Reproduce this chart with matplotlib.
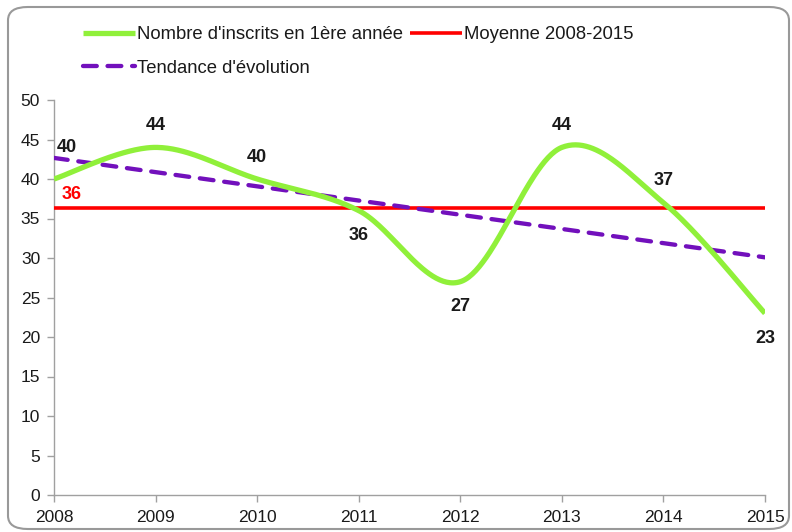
import numpy as np
import matplotlib
matplotlib.use("Agg")
import matplotlib.pyplot as plt
from matplotlib.patches import FancyBboxPatch

plt.rcParams['font.family'] = ['Liberation Sans', 'DejaVu Sans']

years = [2008, 2009, 2010, 2011, 2012, 2013, 2014, 2015]
inscrits = [40, 44, 40, 36, 27, 44, 37, 23]
label_pos = ['above', 'above', 'above', 'below', 'below', 'above', 'above', 'below']
y_ticks = [0, 5, 10, 15, 20, 25, 30, 35, 40, 45, 50]

serie_label = "Nombre d'inscrits en 1ère année"
moyenne_label = "Moyenne 2008-2015"
tendance_label = "Tendance d'évolution"

GREEN = '#90F03A'
RED = '#FF0000'
PURPLE = '#7210BC'
GREY = '#A0A0A0'
TEXT = '#1A1A1A'


def smooth(xs, ys, n=60):
    """Excel-like smoothed line (Catmull-Rom Bezier)."""
    pts = np.column_stack([xs, ys]).astype(float)
    out = []
    for i in range(len(pts) - 1):
        p0 = pts[i - 1] if i > 0 else pts[i]
        p1 = pts[i]
        p2 = pts[i + 1]
        p3 = pts[i + 2] if i + 2 < len(pts) else pts[i + 1]
        c1 = p1 + (p2 - p0) / 6.0
        c2 = p2 - (p3 - p1) / 6.0
        t = np.linspace(0, 1, n)[:, None]
        seg = ((1 - t) ** 3) * p1 + 3 * ((1 - t) ** 2) * t * c1 + 3 * (1 - t) * t ** 2 * c2 + t ** 3 * p2
        if i > 0:
            seg = seg[1:]
        out.append(seg)
    out = np.vstack(out)
    return out[:, 0], out[:, 1]


fig = plt.figure(figsize=(7.92, 5.32), dpi=100)
ax = fig.add_axes([54 / 792, 1 - 495 / 532, (765 - 54) / 792, (495 - 100) / 532])

x = np.array(years, dtype=float)
y = np.array(inscrits, dtype=float)

sx, sy = smooth(x, y)
l1, = ax.plot(sx, sy, color=GREEN, lw=3.8, solid_capstyle='butt', zorder=4, label=serie_label)

moy = y.mean()
l2, = ax.plot([x[0], x[-1]], [moy, moy], color=RED, lw=2.6, solid_capstyle='butt', zorder=3, label=moyenne_label)

coef = np.polyfit(x, y, 1)
tx = np.array([x[0], x[-1]])
l3, = ax.plot(tx, np.polyval(coef, tx), color=PURPLE, lw=3.1, dashes=(3.2, 2.5),
              dash_capstyle='round', zorder=3, label=tendance_label)

for xi, yi, pos in zip(years, inscrits, label_pos):
    dy = 22 if pos == 'above' else -25
    dx = 0
    if xi == years[0]:
        dx, dy = 13, 31
    ax.annotate(f"{yi}", (xi, yi), xytext=(dx, dy), textcoords='offset pixels',
                ha='center', va='center', fontsize=13, fontweight='bold', color=TEXT, zorder=6)

ax.annotate(f"{int(moy)}", (x[0], moy), xytext=(18, 13), textcoords='offset pixels',
            ha='center', va='center', fontsize=13, fontweight='bold', color=RED, zorder=6)

ax.set_xlim(years[0], years[-1])
ax.set_ylim(0, 50)
ax.set_xticks(years)
ax.set_yticks(y_ticks)
ax.tick_params(axis='both', direction='out', length=5, width=1, color=GREY,
               labelsize=12.5, labelcolor=TEXT)
ax.tick_params(axis='y', pad=5)
ax.tick_params(axis='x', pad=6)
for s in ['top', 'right']:
    ax.spines[s].set_visible(False)
for s in ['left', 'bottom']:
    ax.spines[s].set_color(GREY)
    ax.spines[s].set_linewidth(1)

leg = fig.legend(handles=[l1, l3, l2], ncol=2, loc='upper left',
                 bbox_to_anchor=(83 / 792, 1 - 26 / 532), frameon=False,
                 fontsize=13.3, handlelength=2.8, handletextpad=0.12,
                 columnspacing=0.38, labelspacing=0.9, borderpad=0, borderaxespad=0)
for t in leg.get_texts():
    t.set_color(TEXT)

border = FancyBboxPatch((8 / 792, 3 / 532), 781 / 792, 522 / 532,
                        boxstyle="round,pad=0,rounding_size=0.025",
                        transform=fig.transFigure, fill=False, edgecolor='#999999',
                        linewidth=1.5, zorder=0)
fig.patches.append(border)

fig.savefig('out.png', dpi=100)
